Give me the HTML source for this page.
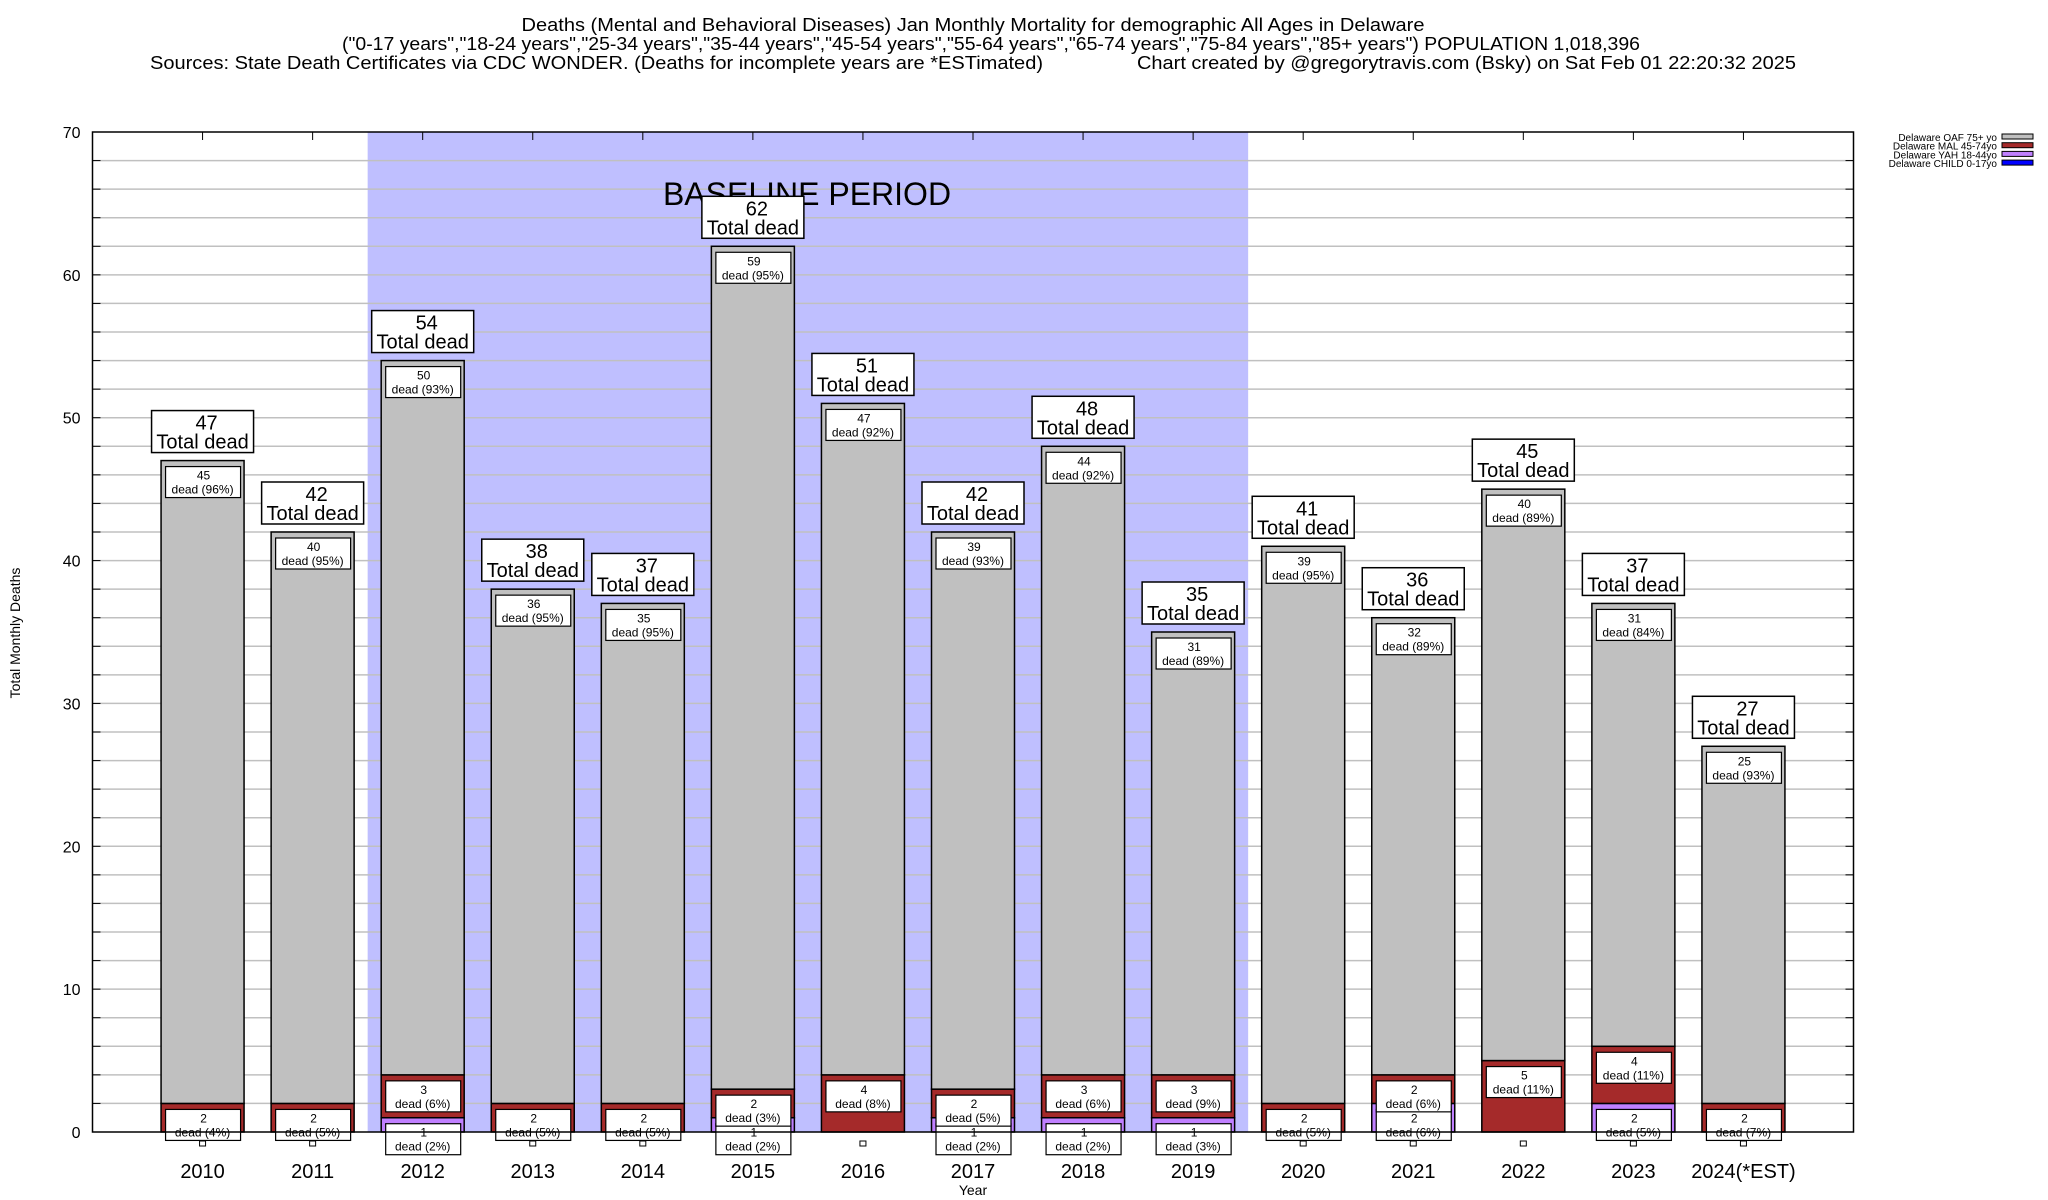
<!DOCTYPE html>
<html><head><meta charset="utf-8"><style>
body{margin:0;background:#fff}
svg{display:block;font-family:"Liberation Sans",sans-serif}
</style></head><body>
<svg id="chart" width="2048" height="1200" viewBox="0 0 2048 1200" xmlns="http://www.w3.org/2000/svg">
<text x="973" y="31" font-size="18" text-anchor="middle" textLength="903" lengthAdjust="spacingAndGlyphs">Deaths (Mental and Behavioral Diseases) Jan Monthly Mortality for demographic All Ages in Delaware</text>
<text x="991" y="50" font-size="18" text-anchor="middle" textLength="1298" lengthAdjust="spacingAndGlyphs">("0-17 years","18-24 years","25-34 years","35-44 years","45-54 years","55-64 years","65-74 years","75-84 years","85+ years") POPULATION 1,018,396</text>
<text x="150" y="69" font-size="18" textLength="893" lengthAdjust="spacingAndGlyphs">Sources: State Death Certificates via CDC WONDER. (Deaths for incomplete years are *ESTimated)</text>
<text x="1137" y="69" font-size="18" textLength="659" lengthAdjust="spacingAndGlyphs">Chart created by @gregorytravis.com (Bsky) on Sat Feb 01 22:20:32 2025</text>
<g id="plot"></g>
<text transform="translate(20,633) rotate(-90)" font-size="14" text-anchor="middle">Total Monthly Deaths</text>
<text x="973" y="1195" font-size="14" text-anchor="middle">Year</text>
<g id="legend"></g>
</svg>
<script>
const years=["2010","2011","2012","2013","2014","2015","2016","2017","2018","2019","2020","2021","2022","2023","2024(*EST)"];
const oaf=[45,40,50,36,35,59,47,39,44,31,39,32,40,31,25];
const mal=[2,2,3,2,2,2,4,2,3,3,2,2,5,4,2];
const yah=[0,0,1,0,0,1,0,1,1,1,0,2,0,2,0];
const child=[0,0,0,0,0,0,0,0,0,0,0,0,0,0,0];
const yTicks=[0,10,20,30,40,50,60,70];
const baseline=[2,9];
const seriesNames=["Delaware OAF 75+ yo","Delaware MAL 45-74yo","Delaware YAH 18-44yo","Delaware CHILD 0-17yo"];
const colors=["#c0c0c0","#a52a2a","#c080ff","#0000ff"];

const NS="http://www.w3.org/2000/svg";
const L=92.5,R=1853.5,T=132,B=1132,yMax=70,xMin=-1,xMax=15;
const xs=i=>L+(i-xMin)/(xMax-xMin)*(R-L);
const ys=v=>B-v/yMax*(B-T);
const bw=83;
const plot=document.getElementById('plot');
function mk(tag,attrs,parent,text){const e=document.createElementNS(NS,tag);for(const k in attrs)e.setAttribute(k,attrs[k]);if(text!==undefined)e.textContent=text;(parent||plot).appendChild(e);return e;}

let sh=mk('rect',{x:xs(baseline[0]-0.5),y:T,width:xs(baseline[1]+0.5)-xs(baseline[0]-0.5),height:B-T,fill:'#bfbfff'});


for(let v=2;v<yMax;v+=2){
 let g=mk('line',{x1:L,x2:R,y1:ys(v),y2:ys(v),stroke:'#c0c0c0','stroke-width':1.5});
 
 
 mk('line',{x1:L,x2:L+8,y1:ys(v),y2:ys(v),stroke:'#000'});
 mk('line',{x1:R-8,x2:R,y1:ys(v),y2:ys(v),stroke:'#000'});
}
yTicks.forEach(v=>{
 let t=mk('text',{x:L-12,y:ys(v)+6,'font-size':16,'text-anchor':'end'},plot,String(v));
 
 
});
let bl=mk('text',{x:807,y:205,'font-size':32,'text-anchor':'middle'},plot,'BASELINE PERIOD');



years.forEach((yr,i)=>{
 const cx=xs(i);
 const segs=[child[i],yah[i],mal[i],oaf[i]];
 const cols=[colors[3],colors[2],colors[1],colors[0]];
 const names=['child','yah','mal','oaf'];
 const total=segs.reduce((a,b)=>a+b,0);
 let base=0;
 const labels=[];
 segs.forEach((v,k)=>{
  if(v>0){
   let r=mk('rect',{x:cx-bw/2,y:ys(base+v),width:bw,height:ys(base)-ys(base+v),fill:cols[k],stroke:'#000','stroke-width':1.5});
   
   
   labels.push([ys(base+v),v]);
  } else if(k===0){
   labels.push([ys(base),0]);
  }
  base+=v;
 });
 labels.forEach(([top,v])=>{
  if(v===0){
   let sq=mk('rect',{x:cx-3,y:top+9,width:6,height:5,fill:'#fff',stroke:'#000','stroke-width':1});
   
   
   return;
  }
  const g=mk('g',{});
  
  
  mk('rect',{x:cx-37,y:top+6,width:75,height:31,fill:'#fff',stroke:'#000','stroke-width':1.2},g);
  mk('text',{x:cx+1,y:top+19,'font-size':12,'text-anchor':'middle'},g,String(v));
  mk('text',{x:cx,y:top+33,'font-size':12,'text-anchor':'middle'},g,'dead ('+Math.round(v/total*100)+'%)');
 });
 const tt=ys(total);
 const tg=mk('g',{});
 
 
 mk('rect',{x:cx-51,y:tt-50,width:102,height:42,fill:'#fff',stroke:'#000','stroke-width':1.5},tg);
 mk('text',{x:cx+4,y:tt-31,'font-size':20,'text-anchor':'middle'},tg,String(total));
 mk('text',{x:cx,y:tt-12,'font-size':20,'text-anchor':'middle'},tg,'Total dead');
 mk('line',{x1:cx,x2:cx,y1:T,y2:T+8,stroke:'#000'});
 let xl=mk('text',{x:cx,y:1178,'font-size':20,'text-anchor':'middle'},plot,yr);
 
 
});
let frame=mk('rect',{x:L,y:T,width:R-L,height:B-T,fill:'none',stroke:'#000','stroke-width':1.5});



const lg=document.getElementById('legend');
seriesNames.forEach((n,k)=>{
 const y=141+k*8.7;
 let t=mk('text',{x:1997,y:y,'font-size':10,'text-anchor':'end'},lg,n);
 
 
 mk('rect',{x:2002,y:y-7,width:31,height:5,fill:colors[k],stroke:'#000','stroke-width':1},lg);
});
</script>
</body></html>
